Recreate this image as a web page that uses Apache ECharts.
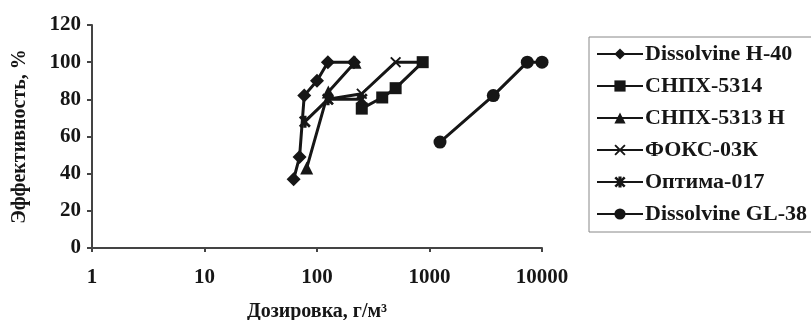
<!DOCTYPE html>
<html>
<head>
<meta charset="utf-8">
<script src="https://cdn.jsdelivr.net/npm/echarts@6/dist/echarts.min.js"></script>
<style>
html,body{margin:0;padding:0;background:#fff;}
#chart{width:811px;height:320px;}
</style>
</head>
<body>
<div id="chart"></div>
<script>
// названия реагентов
var names = ['Dissolvine H-40', 'СНПХ-5314', 'СНПХ-5313 Н', 'ФОКС-03К', 'Оптима-017', 'Dissolvine GL-38'];
// дозировка, г/м3 и эффективность, %
var h40_dose = [62, 70, 77, 100, 125, 213];
var h40_eff  = [37, 49, 82, 90, 100, 100];
var s5314_dose = [250, 380, 500, 870];
var s5314_eff  = [75, 81, 86, 100];
var s5313_dose = [81, 126, 218];
var s5313_eff  = [43, 84, 100];
var foks_dose = [125, 250, 500, 870];
var foks_eff  = [80, 83, 100, 100];
var opt_dose = [78, 125, 250];
var opt_eff  = [68, 80, 80];
var gl38_dose = [1240, 3690, 7400, 10000];
var gl38_eff  = [57, 82, 100, 100];
var xTicks = [1, 10, 100, 1000, 10000];
var yTicks = [0, 20, 40, 60, 80, 100, 120];

var ink = '#161616';
var fontFam = '"Liberation Serif", "DejaVu Serif", serif';

var xMark = 'path://M0,1.2L1.2,0L5,3.8L8.8,0L10,1.2L6.2,5L10,8.8L8.8,10L5,6.2L1.2,10L0,8.8L3.8,5Z';
var starMark = 'path://M0,1.6L1.6,0L5,3.4L8.4,0L10,1.6L6.6,5L10,8.4L8.4,10L5,6.6L1.6,10L0,8.4L3.4,5Z M3.6,0L6.4,0L6.4,10L3.6,10Z';

function pairs(xs, ys){
	var out = [];
	for (var i = 0; i < xs.length; i++) {
		out.push([xs[i], ys[i]]);
	}
	return out;
}

function line(name, xs, ys, symbol, size){
	return {
		name: name,
		type: 'line',
		data: pairs(xs, ys),
		symbol: symbol,
		symbolSize: size,
		showAllSymbol: true,
		lineStyle: {color: ink, width: 3},
		itemStyle: {color: ink, borderColor: ink, borderWidth: 0},
		emphasis: {disabled: true},
		animation: false
	};
}

var myChart = echarts.init(document.getElementById('chart'));
var option = {
	backgroundColor: '#fff',
	animation: false,
	grid: {left: 92, right: 269, top: 25, bottom: 72, outerBoundsMode: 'none', containLabel: false},
	legend: {
		orient: 'vertical',
		left: 589,
		top: 37,
		width: 240,
		padding: [6, 8, 7, 7],
		borderColor: '#888',
		borderWidth: 1,
		itemWidth: 46,
		itemHeight: 14,
		itemGap: 10,
		data: names,
		textStyle: {fontFamily: fontFam, fontWeight: 'bold', fontSize: 22, color: ink, padding: [0, 0, 0, -3]}
	},
	xAxis: {
		type: 'log',
		logBase: 10,
		min: 1,
		max: 10000,
		name: 'Дозировка, г/м³',
		nameLocation: 'middle',
		nameGap: 54,
		nameTextStyle: {fontFamily: fontFam, fontWeight: 'bold', fontSize: 20, color: ink},
		axisLine: {lineStyle: {color: '#444', width: 2}},
		axisTick: {show: true, length: 4, lineStyle: {color: '#444', width: 2}},
		splitLine: {show: false},
		minorTick: {show: false},
		axisLabel: {
			fontFamily: fontFam, fontWeight: 'bold', fontSize: 21, color: ink, margin: 19,
			formatter: function (v) { return xTicks.indexOf(v) >= 0 ? String(v) : ''; }
		}
	},
	yAxis: {
		type: 'value',
		min: yTicks[0],
		max: yTicks[yTicks.length - 1],
		interval: 20,
		name: 'Эффективность, %',
		nameLocation: 'middle',
		nameRotate: 90,
		nameGap: 62,
		nameTextStyle: {fontFamily: fontFam, fontWeight: 'bold', fontSize: 20, color: ink},
		axisLine: {show: true, lineStyle: {color: '#444', width: 2}},
		axisTick: {show: true, length: 5, lineStyle: {color: '#444', width: 2}},
		splitLine: {show: false},
		axisLabel: {fontFamily: fontFam, fontWeight: 'bold', fontSize: 21, color: ink, margin: 11}
	},
	series: [
		line(names[0], h40_dose, h40_eff, 'diamond', 14),
		line(names[1], s5314_dose, s5314_eff, 'rect', 12),
		line(names[2], s5313_dose, s5313_eff, 'triangle', 13),
		line(names[3], foks_dose, foks_eff, xMark, 11),
		line(names[4], opt_dose, opt_eff, starMark, 12),
		line(names[5], gl38_dose, gl38_eff, 'circle', 13)
	]
};
myChart.setOption(option);
</script>
</body>
</html>
